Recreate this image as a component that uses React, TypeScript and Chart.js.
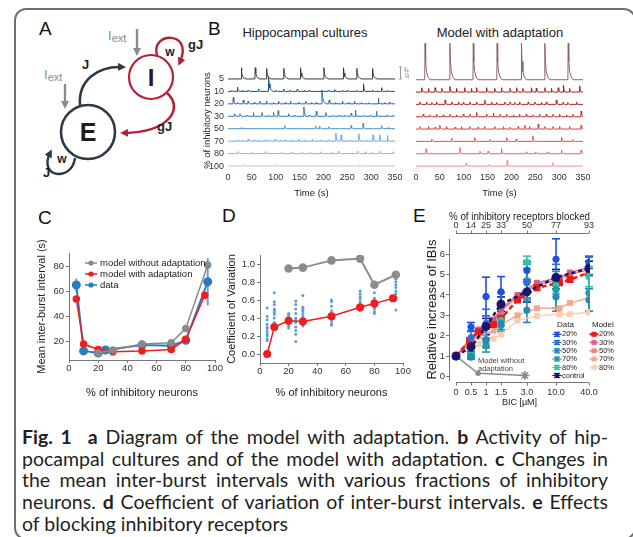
import React, { useEffect, useRef } from 'react';
import { Chart, registerables } from 'chart.js';

Chart.register(...registerables);

const FONT = "'Liberation Sans', Arial, Helvetica, sans-serif";
Chart.defaults.font.family = FONT;
Chart.defaults.color = '#333';

// ---------------- Panel B: spike traces ([time s, amplitude in row units]) ----------------
const ROW_LABELS = ['5', '10', '20', '30', '50', '70', '80', '100'];
const TIME_MAX = 350;

const CULT_5 = [[28, 0.9], [57, 0.9], [81, 0.85], [117, 0.85], [152, 0.9], [201, 0.9], [242, 0.9], [270, 0.85], [303, 0.85]];
const CULT_10 = [[8, 0.08], [20, 0.35], [30, 0.08], [42, 0.1], [64, 0.2], [85, 1.2], [100, 0.08], [117, 0.2], [130, 0.08], [145, 0.15], [160, 0.08], [170, 0.1], [197, 0.1], [210, 0.08], [223, 0.15], [240, 0.08], [251, 0.1], [270, 0.08], [284, 0.62], [303, 0.1], [322, 0.3], [335, 0.08]];
const CULT_20 = [[11, 0.5], [20, 0.1], [32, 0.3], [42, 0.2], [55, 0.1], [67, 0.2], [81, 0.2], [95, 0.1], [106, 0.2], [120, 0.1], [131, 0.2], [148, 0.15], [163, 0.2], [175, 0.1], [185, 0.1], [197, 1.05], [212, 0.3], [225, 0.1], [240, 0.2], [252, 0.1], [265, 0.2], [280, 0.1], [295, 0.1], [315, 0.45], [328, 0.1], [339, 0.15]];
const CULT_30 = [[14, 0.2], [25, 0.2], [40, 0.08], [53, 0.3], [71, 0.3], [85, 0.08], [95, 0.3], [105, 0.45], [127, 0.2], [140, 0.1], [159, 0.75], [170, 0.08], [185, 0.4], [205, 0.3], [220, 0.08], [233, 0.1], [245, 0.08], [258, 0.25], [267, 0.5], [285, 0.08], [298, 0.08], [311, 0.4], [332, 0.1], [345, 0.08]];
const CULT_50 = [[28, 0.1], [60, 0.05], [90, 0.05], [119, 0.25], [150, 0.05], [184, 0.2], [192, 0.2], [211, 0.15], [230, 0.05], [258, 0.25], [283, 0.45], [322, 0.25], [336, 0.1]];
const CULT_70 = [[21, 0.1], [30, 0.08], [42, 0.15], [46, 0.1], [55, 0.08], [64, 0.1], [78, 0.1], [88, 0.08], [99, 0.15], [110, 0.08], [120, 0.1], [135, 0.08], [148, 0.15], [160, 0.08], [177, 0.15], [195, 0.08], [210, 0.08], [226, 0.65], [237, 0.5], [255, 0.08], [274, 0.6], [290, 0.08], [304, 0.5], [318, 0.5], [334, 0.45]];
const CULT_80 = [[21, 0.15], [49, 0.1], [78, 0.15], [113, 0.1], [134, 0.15], [156, 0.1], [173, 0.1], [194, 0.15], [219, 0.1], [232, 0.2], [272, 0.2], [288, 0.15], [303, 0.1], [318, 0.2], [345, 0.15]];
const CULT_100 = [[32, 0.1], [103, 0.1], [233, 0.05], [276, 0.1], [304, 0.08], [336, 0.08]];

const MODEL_5 = [[19, 2.95], [71, 2.95], [120, 2.95], [170, 2.95], [221, 2.95], [270, 2.95], [319, 2.95]];
const MODEL_10 = [[12, 0.35], [26, 0.3], [40, 0.35], [54, 0.3], [71, 0.45], [85, 0.3], [102, 0.35], [116, 0.3], [127, 0.35], [148, 0.35], [165, 0.3], [179, 0.35], [197, 0.3], [211, 0.35], [224, 0.3], [242, 0.35], [252, 0.3], [270, 0.35], [284, 0.3], [298, 0.35], [309, 0.55], [322, 0.3], [343, 0.5]];
const MODEL_20 = [[8, 0.2], [22, 0.2], [33, 0.15], [43, 0.2], [61, 0.35], [75, 0.2], [89, 0.2], [99, 0.15], [113, 0.2], [127, 0.2], [144, 0.35], [158, 0.2], [169, 0.15], [186, 0.2], [197, 0.2], [207, 0.15], [217, 0.2], [235, 0.2], [249, 0.2], [263, 0.15], [273, 0.2], [294, 0.35], [308, 0.2], [318, 0.15], [336, 0.2]];
const MODEL_30 = [[15, 0.2], [29, 0.15], [43, 0.2], [57, 0.15], [71, 0.2], [85, 0.15], [99, 0.2], [113, 0.2], [127, 0.35], [148, 0.2], [162, 0.3], [176, 0.2], [190, 0.2], [204, 0.15], [217, 0.2], [231, 0.2], [245, 0.15], [259, 0.2], [273, 0.2], [287, 0.2], [301, 0.2], [315, 0.15], [329, 0.2], [346, 0.45]];
const MODEL_50 = [[8, 0.2], [26, 0.2], [40, 0.15], [50, 0.3], [64, 0.2], [82, 0.15], [95, 0.2], [113, 0.2], [130, 0.15], [144, 0.2], [165, 0.2], [183, 0.2], [197, 0.15], [214, 0.2], [228, 0.3], [238, 0.2], [256, 0.4], [270, 0.2], [287, 0.2], [301, 0.2], [322, 0.2], [346, 0.3]];
const MODEL_70 = [[33, 0.2], [75, 0.25], [123, 0.3], [155, 0.15], [190, 0.3], [210, 0.2], [245, 0.45], [305, 0.35], [329, 0.15]];
const MODEL_80 = [[21, 0.4], [92, 0.5], [134, 0.2], [151, 0.2], [179, 0.4], [231, 0.15], [251, 0.15], [275, 0.15], [305, 0.3], [346, 0.3]];
const MODEL_100 = [[105, 0.25], [153, 0.1], [191, 0.45], [287, 0.3]];

const CULT_ROWS = [CULT_5, CULT_10, CULT_20, CULT_30, CULT_50, CULT_70, CULT_80, CULT_100];
const MODEL_ROWS = [MODEL_5, MODEL_10, MODEL_20, MODEL_30, MODEL_50, MODEL_70, MODEL_80, MODEL_100];
const CULT_COLORS = ['#3a3a3a', '#1f5080', '#2666a2', '#2f79b9', '#4a90cc', '#6aa8dc', '#88bae5', '#a7cdec'];
const MODEL_COLORS = ['#8a6464', '#a01e1e', '#b52626', '#c83030', '#db3d3d', '#e85050', '#ef6464', '#f48c8c'];

// ---------------- Panel C ----------------
const C_X_NOADAPT = [20, 30, 50, 70, 80, 95];
const C_Y_NOADAPT = [10.6, 13, 17.8, 18.9, 30.4, 81.3];
const C_X_ADAPT = [5, 10, 20, 30, 50, 70, 80, 93];
const C_Y_ADAPT = [54, 17.8, 13.5, 11.7, 12.3, 13.5, 21.6, 57];
const C_X_DATA = [5, 10, 20, 25, 50, 70, 80, 95];
const C_Y_DATA = [65.3, 12.3, 10.6, 13, 17, 16.5, 20.8, 67.9];
const C_ERR_DATA = [5.3, 1.5, 1, 1, 1.5, 1.5, 3, 19];
const C_Y_TICKS = [20, 40, 60, 80];

// ---------------- Panel D ----------------
const D_X_NOADAPT = [20, 30, 50, 70, 80, 95];
const D_Y_NOADAPT = [0.95, 0.96, 1.04, 1.06, 0.77, 0.88];
const D_X_ADAPT = [5, 10, 20, 30, 50, 70, 80, 93];
const D_Y_ADAPT = [0.0, 0.3, 0.37, 0.36, 0.42, 0.52, 0.56, 0.62];
const CV_DOTS_5 = [0.51, 0.42, 0.38, 0.33, 0.3, 0.28, 0.25, 0.22, 0.2, 0.17, 0.15];
const CV_DOTS_10 = [0.68, 0.58, 0.55, 0.5, 0.48, 0.46, 0.44, 0.4, 0.35, 0.32, 0.3];
const CV_DOTS_20 = [0.45, 0.43, 0.41, 0.39, 0.37, 0.35, 0.33, 0.31, 0.29];
const CV_DOTS_25 = [0.59, 0.55, 0.5, 0.45, 0.4, 0.38, 0.35, 0.3, 0.26, 0.22, 0.14];
const CV_DOTS_30 = [0.65, 0.52, 0.5, 0.48, 0.45, 0.42, 0.4, 0.38, 0.36, 0.33, 0.31];
const CV_DOTS_50 = [0.6, 0.58, 0.53, 0.48, 0.45, 0.42, 0.4, 0.37, 0.34, 0.32];
const CV_DOTS_70 = [0.7, 0.67, 0.64, 0.61, 0.58, 0.55, 0.53, 0.5, 0.48];
const CV_DOTS_80 = [0.68, 0.62, 0.6, 0.57, 0.55, 0.52, 0.5, 0.47, 0.45];
const CV_DOTS_95 = [0.87, 0.85, 0.83, 0.8, 0.77, 0.74, 0.7, 0.67, 0.63, 0.6, 0.49];
const CV_GROUPS: [number, number[]][] = [[5, CV_DOTS_5], [10, CV_DOTS_10], [20, CV_DOTS_20], [25, CV_DOTS_25], [30, CV_DOTS_30], [50, CV_DOTS_50], [70, CV_DOTS_70], [80, CV_DOTS_80], [95, CV_DOTS_95]];
const D_Y_TICKS = [0, 0.2, 0.4, 0.6, 0.8, 1.0];

// ---------------- Panel E ----------------
const BIC_LABELS = ['0', '0.5', '1', '1.5', '3.0', '10.0', '40.0'];
const BLOCKED_LABELS = ['0', '14', '25', '33', '50', '77', '93'];
const E_TICK_POS = [0, 1, 2, 3, 4.73, 6.67, 8.87];
const DATA_20 = [1.0, 2.43, 3.92, 4.15, 5.2, 5.75, 5.6];
const ERR_20 = [0, 0.22, 0.95, 0.75, 0.45, 1.0, 0.3];
const DATA_30 = [1.0, 1.9, 2.6, 3.5, 4.6, 4.9, 5.4];
const ERR_30 = [0, 0.35, 0.7, 0.6, 0.9, 0.6, 0.45];
const DATA_50 = [1.0, 0.95, 1.8, 2.6, 3.25, 3.9, 3.75];
const ERR_50 = [0, 0.1, 0.35, 0.3, 0.6, 0.7, 0.55];
const DATA_70 = [1.0, 1.0, 1.5, 2.5, 4.7, 4.25, 4.1];
const ERR_70 = [0, 0.1, 0.3, 0.3, 0.9, 0.9, 0.9];
const DATA_80 = [1.0, 1.05, 1.65, 2.75, 5.6, 4.45, 4.9];
const ERR_80 = [0, 0.1, 0.25, 0.25, 0.3, 0.4, 0.5];
const CONTROL = [1.0, 1.45, 2.45, 3.55, 4.15, 4.85, 5.3];
const ERR_CONTROL = [0, 0.25, 0.4, 0.35, 0.5, 0.4, 0.35];
const MODEL_X = [0, 0.9, 1.5, 2.5, 3.0, 4.1, 5.4, 6.9, 7.6, 8.87];
const MODEL_E_20 = [1.0, 1.75, 2.2, 2.55, 2.85, 3.75, 4.35, 4.6, 4.75, 5.1];
const MODEL_E_30 = [1.0, 1.8, 2.3, 2.8, 3.3, 4.0, 4.6, 4.85, 5.1, 5.35];
const MODEL_E_50 = [1.0, 1.75, 2.25, 2.7, 3.2, 3.9, 4.5, 4.75, 5.0, 5.25];
const MODEL_E_70 = [1.0, 1.55, 1.95, 2.25, 2.55, 3.0, 3.35, 3.35, 3.6, 3.85];
const MODEL_E_80 = [1.0, 1.4, 1.6, 1.85, 2.05, 2.75, 2.97, 3.05, 3.05, 3.15];
const NOADAPT_X = [0, 1.47, 4.6];
const NOADAPT_Y = [1.0, 0.16, 0.05];
const E_Y_TICKS = [0, 1, 2, 3, 4, 5, 6];

const DATA_LEGEND = ['20%', '30%', '50%', '70%', '80%', 'control'];
const MODEL_LEGEND = ['20%', '30%', '50%', '70%', '80%'];

// ---------------- helpers ----------------
const zip = (xs: number[], ys: number[]) => xs.map((x, i) => ({ x, y: ys[i] }));
const AXIS = '#777';

function spikeTrace(spikes: number[][], offset: number) {
  const pts: { x: number; y: number }[] = [{ x: 0, y: offset }];
  const sorted = [...spikes].sort((a, b) => a[0] - b[0]);
  for (const [t, a] of sorted) {
    const shape = a > 0.8
      ? [[-0.7, 0], [0, 1], [1.2, 0.5], [3, 0.22], [6, 0.08], [10, 0]]
      : [[-0.6, 0], [0, 1], [1.2, 0.35], [3.5, 0]];
    for (const [dt, f] of shape) {
      const x = t + dt;
      if (x > pts[pts.length - 1].x && x <= TIME_MAX) pts.push({ x, y: offset + a * f });
    }
  }
  pts.push({ x: TIME_MAX, y: offset });
  return pts;
}

const fixW = (w: number) => (s: any) => { s.width = w; s.paddingLeft = 0; s.paddingRight = 0; s.paddingTop = 0; s.paddingBottom = 0; };
const fixH = (h: number) => (s: any) => { s.height = h; s.paddingLeft = 0; s.paddingRight = 0; s.paddingTop = 0; s.paddingBottom = 0; };
const setTicks = (vals: number[]) => (s: any) => { s.ticks = vals.map((v) => ({ value: v })); };

const base = {
  responsive: false,
  maintainAspectRatio: false,
  animation: false,
  devicePixelRatio: 1,
  events: [],
  plugins: { legend: { display: false }, tooltip: { enabled: false }, title: { display: false } },
};

function line(ctx: CanvasRenderingContext2D, x1: number, y1: number, x2: number, y2: number) {
  ctx.beginPath(); ctx.moveTo(x1, y1); ctx.lineTo(x2, y2); ctx.stroke();
}

const errorBars = {
  id: 'errorBars',
  beforeDatasetsDraw(chart: any) {
    const ctx = chart.ctx;
    chart.data.datasets.forEach((ds: any, di: number) => {
      if (!ds.errors) return;
      const meta = chart.getDatasetMeta(di);
      const ys = chart.scales[meta.yAxisID];
      ctx.save();
      ctx.strokeStyle = ds.errColor || ds.borderColor;
      ctx.lineWidth = ds.errWidth || 1.5;
      meta.data.forEach((pt: any, i: number) => {
        const e = ds.errors[i];
        if (!e) return;
        const v = ds.data[i].y;
        const yt = ys.getPixelForValue(v + e);
        const yb = ys.getPixelForValue(v - e);
        line(ctx, pt.x, yt, pt.x, yb);
        if (ds.capW) {
          line(ctx, pt.x - ds.capW / 2, yt, pt.x + ds.capW / 2, yt);
          line(ctx, pt.x - ds.capW / 2, yb, pt.x + ds.capW / 2, yb);
        }
      });
      ctx.restore();
    });
  },
};

// ---------------- chart factories ----------------
function traceDatasets(rows: number[][][], colors: string[]) {
  return rows.map((r, i) => ({
    label: ROW_LABELS[i],
    data: spikeTrace(r, 7 - i),
    borderColor: colors[i],
    borderWidth: 1,
    pointRadius: 0,
    clip: false,
    tension: 0,
  }));
}

const timeAxis = {
  type: 'linear', min: 0, max: TIME_MAX,
  afterFit: fixH(29),
  ticks: { stepSize: 50, padding: 1.6, font: { size: 9 }, color: '#333', maxRotation: 0, minRotation: 0, autoSkip: false },
  grid: { display: false, drawTicks: false },
  border: { display: false },
  title: { display: true, text: 'Time (s)', font: { size: 9.5 }, color: '#222', padding: { top: 0, bottom: 1.3 } },
};

function makeBLeft() {
  return {
    type: 'line',
    data: { datasets: traceDatasets(CULT_ROWS, CULT_COLORS) },
    options: {
      ...base,
      layout: { padding: { left: 0, top: 35, right: 15, bottom: 0 } },
      scales: {
        x: timeAxis,
        y: {
          type: 'linear', min: -0.4, max: 7.72,
          afterFit: fixW(33),
          afterBuildTicks: setTicks([0, 1, 2, 3, 4, 5, 6, 7]),
          ticks: { padding: 4, font: { size: 9 }, color: '#333', autoSkip: false, callback: (v: number) => ROW_LABELS[7 - v] },
          grid: { display: false, drawTicks: false },
          border: { display: false },
          title: { display: true, text: '% of inhibitory neurons', font: { size: 9.5 }, color: '#222', padding: { top: 6.3, bottom: 0 } },
        },
      },
    },
    plugins: [{
      id: 'scaleBar',
      afterDraw(chart: any) {
        const ctx = chart.ctx; const ys = chart.scales.y;
        const x = chart.chartArea.right + 5.5;
        const y0 = ys.getPixelForValue(7), y1 = ys.getPixelForValue(7.95);
        ctx.save(); ctx.strokeStyle = '#999'; ctx.lineWidth = 1;
        line(ctx, x, y0, x, y1); line(ctx, x - 1.5, y0, x + 1.5, y0); line(ctx, x - 1.5, y1, x + 1.5, y1);
        ctx.fillStyle = '#888'; ctx.font = '5px ' + FONT; ctx.textBaseline = 'middle';
        ctx.fillText('1', x + 3, y1 + 2);
        ctx.translate(x + 7, (y0 + y1) / 2); ctx.rotate(-Math.PI / 2); ctx.textAlign = 'center';
        ctx.fillText('ΔF/F', 0, 0);
        ctx.restore();
      },
    }],
  };
}

function makeBRight() {
  return {
    type: 'line',
    data: { datasets: traceDatasets(MODEL_ROWS, MODEL_COLORS) },
    options: {
      ...base,
      layout: { padding: { left: 6, top: 5, right: 50, bottom: 0 } },
      scales: {
        x: timeAxis,
        y: { type: 'linear', min: -0.4, max: 10.22, display: false },
      },
    },
  };
}

const C_LEFT = 30, C_TOP = 240;
const C_RED = '#f21c1c', C_GREY = '#8a8a8a', C_BLUE = '#2b7bbf';

function axisCommon(size = 9.5) {
  return {
    grid: { display: true, drawOnChartArea: false, drawTicks: true, tickLength: 3, color: AXIS },
    border: { display: true, color: AXIS },
    tickFont: { size },
  };
}

function makeC() {
  const a = axisCommon();
  return {
    type: 'line',
    data: {
      datasets: [
        { label: 'model without adaptation', data: zip(C_X_NOADAPT, C_Y_NOADAPT), borderColor: C_GREY, backgroundColor: C_GREY, borderWidth: 1.5, pointRadius: 3 },
        { label: 'model with adaptation', data: zip(C_X_ADAPT, C_Y_ADAPT), borderColor: C_RED, backgroundColor: C_RED, borderWidth: 1.5, pointRadius: 3 },
        { label: 'data', data: zip(C_X_DATA, C_Y_DATA), borderColor: C_BLUE, backgroundColor: C_BLUE, borderWidth: 2, pointRadius: 3.5, errors: C_ERR_DATA, errColor: 'rgba(60,140,210,0.8)', errWidth: 2 },
      ],
    },
    options: {
      ...base,
      layout: { padding: { left: 0, top: 13, right: 10, bottom: 0 } },
      scales: {
        x: {
          type: 'linear', min: 0, max: 100, afterFit: fixH(42),
          ticks: { stepSize: 20, padding: 0, font: a.tickFont, color: '#333', maxRotation: 0, minRotation: 0 },
          grid: a.grid, border: a.border,
          title: { display: true, text: '% of inhibitory neurons', font: { size: 11 }, color: '#222', padding: { top: 0, bottom: 2.4 } },
        },
        y: {
          type: 'linear', min: 5, max: 91, afterFit: fixW(39), afterBuildTicks: setTicks(C_Y_TICKS),
          ticks: { padding: 2, font: a.tickFont, color: '#333' },
          grid: a.grid, border: a.border,
          title: { display: true, text: 'Mean inter-burst interval (s)', font: { size: 11 }, color: '#222', padding: { top: 5.4, bottom: 0 } },
        },
      },
    },
    plugins: [errorBars, {
      id: 'legendC',
      afterDraw(chart: any) {
        const ctx = chart.ctx;
        const rows = [263, 274, 285];
        ctx.save();
        chart.data.datasets.forEach((ds: any, i: number) => {
          const y = rows[i] - C_TOP;
          ctx.strokeStyle = ds.borderColor; ctx.lineWidth = 1.5;
          line(ctx, 85 - C_LEFT, y, 97 - C_LEFT, y);
          ctx.fillStyle = ds.borderColor;
          ctx.beginPath(); ctx.arc(91 - C_LEFT, y, 2.6, 0, Math.PI * 2); ctx.fill();
          ctx.fillStyle = '#222'; ctx.font = '9.5px ' + FONT; ctx.textBaseline = 'middle';
          ctx.fillText(ds.label, 100 - C_LEFT, y);
        });
        ctx.restore();
      },
    }],
  };
}

function makeD() {
  const a = axisCommon();
  const dots: { x: number; y: number }[] = [];
  CV_GROUPS.forEach(([x, vals]) => vals.forEach((v) => dots.push({ x, y: v })));
  return {
    type: 'line',
    data: {
      datasets: [
        { label: 'model without adaptation', data: zip(D_X_NOADAPT, D_Y_NOADAPT), borderColor: '#8c8c8c', backgroundColor: '#8c8c8c', borderWidth: 2, pointRadius: 3.3 },
        { label: 'model with adaptation', data: zip(D_X_ADAPT, D_Y_ADAPT), borderColor: '#f21c1c', backgroundColor: '#f21c1c', borderWidth: 1.5, pointRadius: 3.3 },
        { label: 'data', data: dots, showLine: false, borderColor: '#5b9fd6', backgroundColor: '#5b9fd6', borderWidth: 0, pointRadius: 1.5 },
      ],
    },
    options: {
      ...base,
      layout: { padding: { left: 0, top: 10, right: 9, bottom: 0 } },
      scales: {
        x: {
          type: 'linear', min: 0, max: 100, afterFit: fixH(39),
          ticks: { stepSize: 20, padding: 0, font: a.tickFont, color: '#333', maxRotation: 0, minRotation: 0 },
          grid: a.grid, border: a.border,
          title: { display: true, text: '% of inhibitory neurons', font: { size: 11 }, color: '#222', padding: { top: 0, bottom: 2.4 } },
        },
        y: {
          type: 'linear', min: -0.1, max: 1.1, afterFit: fixW(38), afterBuildTicks: setTicks(D_Y_TICKS),
          ticks: { padding: 2, font: a.tickFont, color: '#333', callback: (v: number) => v.toFixed(1) },
          grid: a.grid, border: a.border,
          title: { display: true, text: 'Coefficient of Variation', font: { size: 11 }, color: '#222', padding: { top: 3.4, bottom: 0 } },
        },
      },
    },
  };
}

const E_LEFT = 418, E_TOP = 205;
const E_COL = {
  d20: '#1f4fe0', d30: '#2a6fd6', d50: '#2a86b8', d70: '#1f9ca6', d80: '#2ec4a0', ctrl: '#16186e',
  m20: '#f01818', m30: 'rgba(214,86,120,0.85)', m50: 'rgba(236,120,104,0.85)', m70: 'rgba(245,165,132,0.9)', m80: 'rgba(249,205,181,0.95)',
};

function makeE() {
  const dataDs = (label: string, ys: number[], errs: number[], color: string) => ({
    label, data: zip(E_TICK_POS, ys), showLine: false, borderColor: color, backgroundColor: color,
    pointRadius: 3.2, errors: errs, errColor: color, errWidth: 1.6, capW: 8,
  });
  const modelDs = (label: string, ys: number[], color: string, width: number, dash: number[]) => ({
    label, data: zip(MODEL_X, ys), borderColor: color, backgroundColor: color, borderWidth: width,
    borderDash: dash, pointStyle: 'rect', pointRadius: 3.2,
  });
  const flatTicks = { maxRotation: 0, minRotation: 0, autoSkip: false };
  return {
    type: 'line',
    data: {
      datasets: [
        { label: 'control', data: zip(E_TICK_POS, CONTROL), borderColor: E_COL.ctrl, backgroundColor: E_COL.ctrl, borderWidth: 2.5, borderDash: [4, 3], pointRadius: 3.3, errors: ERR_CONTROL, errColor: E_COL.ctrl, errWidth: 1.6, capW: 8 },
        dataDs('20%', DATA_20, ERR_20, E_COL.d20),
        dataDs('30%', DATA_30, ERR_30, E_COL.d30),
        dataDs('50%', DATA_50, ERR_50, E_COL.d50),
        dataDs('70%', DATA_70, ERR_70, E_COL.d70),
        dataDs('80%', DATA_80, ERR_80, E_COL.d80),
        modelDs('m20%', MODEL_E_20, E_COL.m20, 2.5, [5, 3]),
        modelDs('m30%', MODEL_E_30, E_COL.m30, 1.5, []),
        modelDs('m50%', MODEL_E_50, E_COL.m50, 1.5, []),
        modelDs('m70%', MODEL_E_70, E_COL.m70, 1.5, []),
        modelDs('m80%', MODEL_E_80, E_COL.m80, 1.5, []),
        { label: 'no adaptation', data: zip(NOADAPT_X, NOADAPT_Y), borderColor: '#8a8a8a', backgroundColor: '#8a8a8a', borderWidth: 1.5, pointRadius: [0, 2, 4.5], pointStyle: ['circle', 'circle', 'star'] },
      ],
    },
    options: {
      ...base,
      layout: { padding: { left: 0, top: 0, right: 43, bottom: 0 } },
      scales: {
        x: {
          type: 'linear', min: -0.47, max: 8.94, afterFit: fixH(30), afterBuildTicks: setTicks(E_TICK_POS),
          ticks: { ...flatTicks, padding: 7.6, font: { size: 9 }, color: '#333', callback: (_v: number, i: number) => BIC_LABELS[i] },
          grid: { display: false, drawTicks: false }, border: { display: false },
          title: { display: true, text: 'BIC [µM]', font: { size: 9 }, color: '#222', padding: { top: 0, bottom: 1.6 } },
        },
        x2: {
          type: 'linear', position: 'top', min: -0.47, max: 8.94, afterFit: fixH(34), afterBuildTicks: setTicks(E_TICK_POS),
          ticks: { ...flatTicks, padding: 7.6, font: { size: 9 }, color: '#333', callback: (_v: number, i: number) => BLOCKED_LABELS[i] },
          grid: { display: false, drawTicks: false }, border: { display: false },
          title: { display: true, text: '% of inhibitory receptors blocked', font: { size: 11 }, color: '#222', padding: { top: 5.4, bottom: 0 } },
        },
        y: {
          type: 'linear', min: -0.17, max: 6.74, afterFit: fixW(31), afterBuildTicks: setTicks(E_Y_TICKS),
          ticks: { padding: 1, font: { size: 9.5 }, color: '#333' },
          grid: { display: true, drawOnChartArea: false, drawTicks: true, tickLength: 3, color: AXIS },
          border: { display: true, color: AXIS },
          title: { display: true, text: 'Relative increase of IBIs', font: { size: 13 }, color: '#222', padding: { top: 6.2, bottom: 0 } },
        },
      },
    },
    plugins: [errorBars, {
      id: 'eExtras',
      afterDraw(chart: any) {
        const ctx = chart.ctx; const xs = chart.scales.x; const ca = chart.chartArea;
        ctx.save();
        ctx.strokeStyle = AXIS; ctx.lineWidth = 1;
        const x0 = xs.getPixelForValue(E_TICK_POS[0]);
        const x1 = xs.getPixelForValue(E_TICK_POS[E_TICK_POS.length - 1]);
        const yb = Math.round(ca.bottom) + 2.5, yt = Math.round(ca.top) - 5.5;
        line(ctx, x0, yb, x1, yb); line(ctx, x0, yt, x1, yt);
        E_TICK_POS.forEach((p) => {
          const px = Math.round(xs.getPixelForValue(p)) + 0.5;
          line(ctx, px, yb, px, yb + 3); line(ctx, px, yt, px, yt - 3);
        });
        // annotation
        ctx.fillStyle = '#444'; ctx.font = '7.5px ' + FONT; ctx.textBaseline = 'middle';
        ctx.fillText('Model without', 478 - E_LEFT, 361 - E_TOP);
        ctx.fillText('adaptation', 478 - E_LEFT, 368.5 - E_TOP);
        // legend
        const rows = [334.3, 342.5, 350.8, 359, 367.5, 375.5];
        ctx.fillStyle = '#222'; ctx.font = '8px ' + FONT;
        ctx.fillText('Data', 557 - E_LEFT, 325 - E_TOP);
        ctx.fillText('Model', 592 - E_LEFT, 325 - E_TOP);
        const dCols = [E_COL.d20, E_COL.d30, E_COL.d50, E_COL.d70, E_COL.d80, E_COL.ctrl];
        const mCols = [E_COL.m20, E_COL.m30, E_COL.m50, E_COL.m70, E_COL.m80];
        ctx.font = '7.5px ' + FONT;
        DATA_LEGEND.forEach((t, i) => {
          const y = rows[i] - E_TOP, cx = 557 - E_LEFT;
          ctx.strokeStyle = dCols[i]; ctx.fillStyle = dCols[i]; ctx.lineWidth = 1.3;
          line(ctx, cx - 4.5, y, cx + 4.5, y); line(ctx, cx - 3, y - 2, cx + 3, y - 2); line(ctx, cx - 3, y + 2, cx + 3, y + 2);
          ctx.beginPath(); ctx.arc(cx, y, 2.2, 0, Math.PI * 2); ctx.fill();
          ctx.fillStyle = '#222'; ctx.fillText(t, 562 - E_LEFT, y);
        });
        MODEL_LEGEND.forEach((t, i) => {
          const y = rows[i] - E_TOP, cx = 594 - E_LEFT;
          ctx.strokeStyle = mCols[i]; ctx.fillStyle = mCols[i]; ctx.lineWidth = i === 0 ? 2.2 : 1.5;
          line(ctx, cx - 4.5, y, cx + 4.5, y);
          ctx.fillRect(cx - 2.5, y - 2.5, 5, 5);
          ctx.fillStyle = '#222'; ctx.fillText(t, 599 - E_LEFT, y);
        });
        ctx.restore();
      },
    }],
  };
}

// ---------------- components ----------------
function ChartBox({ x, y, w, h, make }: { x: number; y: number; w: number; h: number; make: () => any }) {
  const ref = useRef<HTMLCanvasElement>(null);
  useEffect(() => {
    const chart = new Chart(ref.current as HTMLCanvasElement, make());
    return () => chart.destroy();
  }, []);
  return <canvas ref={ref} width={w} height={h} style={{ position: 'absolute', left: x, top: y, width: w, height: h }} />;
}

function Diagram() {
  const dark = '#2d3a45', red = '#b52039', grey = '#8c8c8c';
  const tf = { fontFamily: FONT, fontWeight: 700 as const };
  const marker = (id: string, color: string) => (
    <marker id={id} viewBox="0 0 10 10" refX="5" refY="5" markerWidth="8" markerHeight="8" markerUnits="userSpaceOnUse" orient="auto">
      <path d="M0,0 L10,5 L0,10 z" fill={color} />
    </marker>
  );
  return (
    <svg width={633} height={537} style={{ position: 'absolute', left: 0, top: 0 }}>
      <defs>
        {marker('mD', dark)}
        {marker('mR', red)}
        {marker('mG', grey)}
      </defs>
      <path d="M80,105 C78,80 98,66 122,67" fill="none" stroke={dark} strokeWidth={2.6} markerEnd="url(#mD)" />
      <path d="M167,93 C184,108 170,132 124,133" fill="none" stroke={red} strokeWidth={2.6} markerEnd="url(#mR)" />
      <path d="M157,55 C150,32 194,30 180,62" fill="none" stroke={red} strokeWidth={2.4} markerEnd="url(#mR)" />
      <path d="M75,158 C72,182 38,178 50,153" fill="none" stroke={dark} strokeWidth={2.4} markerEnd="url(#mD)" />
      <path d="M137,29 L137,52" stroke={grey} strokeWidth={2.4} markerEnd="url(#mG)" />
      <path d="M65,84 L65,105" stroke={grey} strokeWidth={2.4} markerEnd="url(#mG)" />
      <circle cx={88} cy={132} r={27} fill="white" stroke={dark} strokeWidth={2.6} />
      <circle cx={151} cy={77} r={22} fill="white" stroke={red} strokeWidth={2.2} />
      <text x={88} y={141} textAnchor="middle" fontSize={25} fill="#1e1e1e" {...tf}>E</text>
      <text x={151} y={86} textAnchor="middle" fontSize={24} fill="#1e1e1e" {...tf}>I</text>
      <text x={82} y={69} fontSize={13} fill="#222" {...tf}>J</text>
      <text x={157} y={131} fontSize={13} fill="#222" {...tf}>gJ</text>
      <text x={170} y={56} textAnchor="middle" fontSize={12} fill="#222" {...tf}>w</text>
      <text x={188} y={49} fontSize={13} fill="#222" {...tf}>gJ</text>
      <text x={62} y={163} textAnchor="middle" fontSize={12} fill="#222" {...tf}>w</text>
      <text x={43} y={177} fontSize={13} fill="#222" {...tf}>J</text>
      <text x={108} y={40} fontSize={13} fill={grey} fontFamily={FONT}>I<tspan dy={2} fontSize={11}>ext</tspan></text>
      <text x={44} y={79} fontSize={13} fill={grey} fontFamily={FONT}>I<tspan dy={2} fontSize={11}>ext</tspan></text>
    </svg>
  );
}

const abs = (left: number, top: number, extra: React.CSSProperties = {}): React.CSSProperties => ({ position: 'absolute', left, top, ...extra });

export default function App() {
  const letter: React.CSSProperties = { fontFamily: FONT, fontSize: 19, color: '#111', lineHeight: '20px' };
  const cap: React.CSSProperties = { textAlign: 'justify', textAlignLast: 'justify', whiteSpace: 'nowrap' as const };
  return (
    <div style={{ position: 'absolute', left: 0, top: 0, width: 633, height: 537, overflow: 'hidden', background: '#fff' }}>
      <div style={{ position: 'absolute', left: 14, top: 8, width: 622, height: 532, border: '2px solid #707070', borderRadius: 12, boxSizing: 'border-box' }} />
      <Diagram />
      <div style={abs(39, 19, letter)}>A</div>
      <div style={abs(208, 19, letter)}>B</div>
      <div style={abs(38, 208, letter)}>C</div>
      <div style={abs(222, 206, letter)}>D</div>
      <div style={abs(413, 206, letter)}>E</div>
      <div style={abs(205, 25, { width: 200, textAlign: 'center', fontFamily: FONT, fontSize: 13, color: '#222' })}>Hippocampal cultures</div>
      <div style={abs(400, 25, { width: 200, textAlign: 'center', fontFamily: FONT, fontSize: 13, color: '#222' })}>Model with adaptation</div>
      <ChartBox x={195} y={35} w={215} h={165} make={makeBLeft} />
      <ChartBox x={410} y={35} w={223} h={165} make={makeBRight} />
      <ChartBox x={C_LEFT} y={C_TOP} w={195} h={162} make={makeC} />
      <ChartBox x={222} y={245} w={190} h={157} make={makeD} />
      <ChartBox x={E_LEFT} y={E_TOP} w={215} h={205} make={makeE} />
      <div style={abs(22, 426, { width: 586, fontFamily: "Lato, 'Open Sans', sans-serif", fontSize: 19.5, lineHeight: '21.7px', color: '#231f20' })}>
        <div style={cap}><b>Fig. 1</b>&nbsp; <b>a</b> Diagram of the model with adaptation. <b>b</b> Activity of hip-</div>
        <div style={cap}>pocampal cultures and of the model with adaptation. <b>c</b> Changes in</div>
        <div style={cap}>the mean inter-burst intervals with various fractions of inhibitory</div>
        <div style={cap}>neurons. <b>d</b> Coefficient of variation of inter-burst intervals. <b>e</b> Effects</div>
        <div>of blocking inhibitory receptors</div>
      </div>
    </div>
  );
}
